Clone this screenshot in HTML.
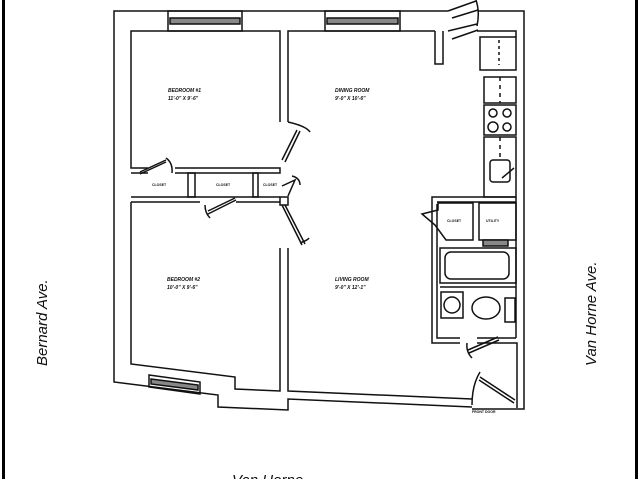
<!DOCTYPE html>
<html><head><meta charset="utf-8"><style>
html,body{margin:0;padding:0;background:#fff;width:640px;height:479px;overflow:hidden}
svg{display:block}
text{font-family:"Liberation Sans",sans-serif;fill:#111}
</style></head><body>
<svg width="640" height="479" viewBox="0 0 640 479" xmlns="http://www.w3.org/2000/svg">
<rect x="0" y="0" width="640" height="479" fill="#fff"/>
<line x1="3.5" y1="0" x2="3.5" y2="479" stroke="#000" stroke-width="3"/>
<line x1="636.5" y1="0" x2="636.5" y2="479" stroke="#000" stroke-width="3"/>
<g fill="none" stroke="#111" stroke-width="1.5">
<polyline points="448,11 114,11 114,382 218,395 218,407 288,410 288,399 472,407"/>
<polyline points="478,11 524,11 524,409 472,409"/>
<polyline points="435,31 288,31 288,122"/>
<polyline points="280,122 280,31 131,31 131,168 148,168"/>
<polyline points="443,31 443,64 435,64 435,31"/>
<polyline points="477,31 516,31 516,37"/>
<polyline points="131,202 131,364 235,377 235,389 280,391 280,248"/>
<polyline points="288,248 288,391 472,399"/>
<rect x="168" y="11" width="74" height="20"/>
<rect x="170" y="18" width="70" height="6" fill="#888"/>
<rect x="325" y="11" width="75" height="20"/>
<rect x="327" y="18" width="71" height="6" fill="#888"/>
<polygon points="149,375 200,382 200,394 149,387"/>
<polygon points="151,379 198,385 198,390 151,384" fill="#888"/>
<path d="M448,11 L476,1 M452,18 L478,10 M448,31 L477,24 M452,39 L478,30 M476,0 Q480,12 477,26"/>
<polyline points="131,173 148,173"/>
<polyline points="175,168 280,168 280,173 175,173"/>
<line x1="131" y1="197" x2="280" y2="197"/>
<line x1="131" y1="202" x2="200" y2="202"/>
<line x1="236" y1="202" x2="280" y2="202"/>
<rect x="188" y="173" width="7" height="24"/>
<rect x="253" y="173" width="5" height="24"/>
<path d="M140,172 L166,160 M140,174 L166,162 M166,158 Q173,163 172,173"/>
<path d="M208,214 L236,200 M208,211 L235,198 M205,205 Q205,213 210,218"/>
<path d="M282,186 L295,180 L288,196 M292,176 Q300,178 300,185"/>
<path d="M282,160 L297,130 M285,162 L300,131 M288,122 Q306,126 310,132"/>
<path d="M282,205 L302,245 M285,205 L305,244 M300,243 Q308,240 309,238"/>
<rect x="280" y="197" width="8" height="8"/>
<rect x="480" y="37" width="36" height="33"/>
<line x1="499" y1="40" x2="499" y2="65" stroke-dasharray="3,3"/>
<rect x="484" y="77" width="32" height="26"/>
<line x1="500" y1="77" x2="500" y2="103" stroke-dasharray="4,4"/>
<rect x="484" y="105" width="32" height="30"/>
<circle cx="493" cy="113" r="4"/><circle cx="507" cy="113" r="4"/>
<circle cx="493" cy="127" r="5"/><circle cx="507" cy="127" r="4"/>
<rect x="484" y="137" width="32" height="60"/>
<line x1="500" y1="137" x2="500" y2="160" stroke-dasharray="4,4"/>
<rect x="490" y="160" width="20" height="22" rx="3"/>
<line x1="502" y1="178" x2="514" y2="168"/>
<polyline points="516,197 432,197 432,343 460,343"/>
<polyline points="437,204 437,338 460,338"/>
<polyline points="477,343 517,343 517,408"/>
<polyline points="477,338 516,338"/>
<line x1="516" y1="197" x2="516" y2="338"/>
<line x1="437" y1="202" x2="516" y2="202"/>
<polygon points="438,203 473,203 473,240 446,240 435,225 422,214 438,210"/>
<rect x="479" y="203" width="37" height="37"/>
<rect x="483" y="240" width="25" height="6" fill="#888"/>
<rect x="440" y="248" width="76" height="35"/>
<rect x="445" y="252" width="64" height="27" rx="6"/>
<line x1="440" y1="287" x2="516" y2="287"/>
<rect x="441" y="292" width="22" height="26"/>
<circle cx="452" cy="305" r="8"/>
<ellipse cx="486" cy="308" rx="14" ry="11"/>
<rect x="505" y="298" width="10" height="24"/>
<path d="M468,350 L498,337 M469,353 L499,340 M467,343 Q466,352 472,358"/>
<path d="M480,377 L515,400 M479,380 L514,403 M480,372 Q472,385 472,405"/>
</g>
<g font-size="5" font-weight="bold" font-style="italic">
<text x="168" y="92">BEDROOM #1</text><text x="168" y="100">11'-0" X 9'-6"</text>
<text x="335" y="92">DINING ROOM</text><text x="335" y="100">9'-0" X 10'-6"</text>
<text x="167" y="281">BEDROOM #2</text><text x="167" y="289">10'-0" X 9'-6"</text>
<text x="335" y="281">LIVING ROOM</text><text x="335" y="289">9'-0" X 12'-1"</text>
</g>
<g font-size="3.5" font-weight="bold">
<text x="152" y="186">CLOSET</text><text x="216" y="186">CLOSET</text><text x="263" y="186">CLOSET</text>
<text x="447" y="222">CLOSET</text><text x="486" y="222">UTILITY</text>
<text x="472" y="413">FRONT DOOR</text>
</g>
<text font-size="15" font-style="italic" transform="translate(47,366) rotate(-90)">Bernard Ave.</text>
<text font-size="15" font-style="italic" transform="translate(596,366) rotate(-90)">Van Horne Ave.</text>
<text font-size="15" font-style="italic" x="232" y="485">Van Horne</text>
</svg>
</body></html>
